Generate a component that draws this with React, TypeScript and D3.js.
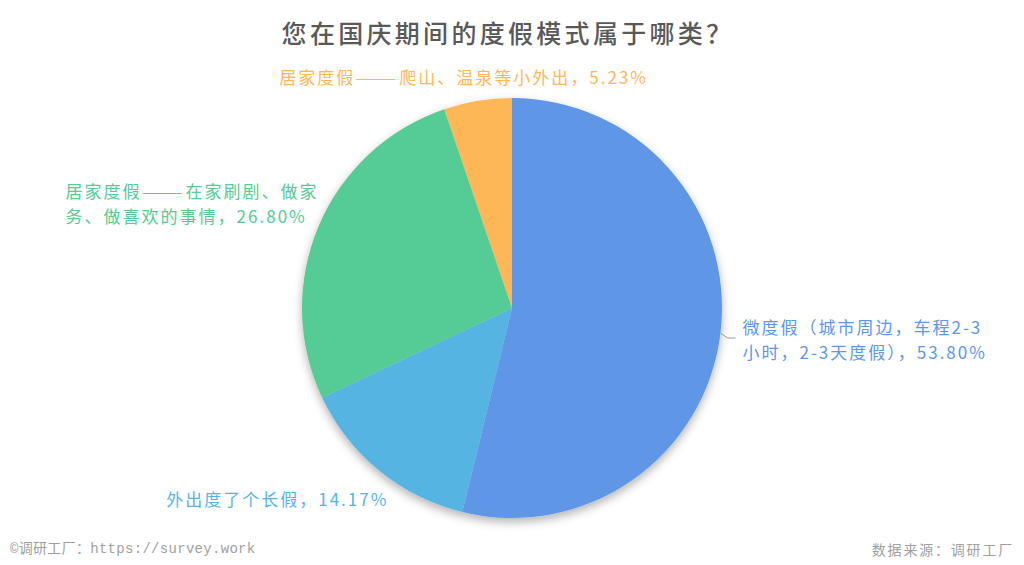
import * as d3 from "d3";
import { useEffect, useRef } from "react";

// data
const categories = [
  "微度假（城市周边，车程2-3小时，2-3天度假）",
  "外出度了个长假",
  "居家度假——在家刷剧、做家务、做喜欢的事情",
  "居家度假——爬山、温泉等小外出",
];
const values = [53.8, 14.17, 26.8, 5.23];
const colors = ["#5e97e6", "#56b4e3", "#55cb95", "#feb756"];
// label lines as printed (wrapped)
const labelLines = [
  ["微度假（城市周边，车程2-3", "小时，2-3天度假），53.80%"],
  ["外出度了个长假，14.17%"],
  ["居家度假——在家刷剧、做家", "务、做喜欢的事情，26.80%"],
  ["居家度假——爬山、温泉等小外出，5.23%"],
];

const title = "您在国庆期间的度假模式属于哪类？";
const footLeft = "©调研工厂：https://survey.work";
const footRight = "数据来源：调研工厂";

export default function App() {
  const svgRef = useRef<SVGSVGElement>(null);
  const width = 1024;
  const height = 565;

  useEffect(() => {
    const svg = d3.select(svgRef.current).attr("width", width).attr("height", height);
    svg.selectAll("*").remove();

    const font = "'Noto Sans CJK SC', 'Noto Sans', sans-serif";
    const monoFont = "'Liberation Mono', 'Noto Sans CJK SC', monospace";

    const defs = svg.append("defs");
    const f = defs.append("filter").attr("id", "shadow").attr("x", "-20%").attr("y", "-20%").attr("width", "140%").attr("height", "140%");
    f.append("feDropShadow")
      .attr("dx", 0).attr("dy", 4).attr("stdDeviation", 5)
      .attr("flood-color", "#000").attr("flood-opacity", 0.3);

    // title
    svg.append("text")
      .attr("x", width / 2 - 4).attr("y", 32)
      .attr("text-anchor", "middle").attr("dominant-baseline", "central")
      .attr("font-family", font).attr("font-size", 25).attr("font-weight", 500)
      .attr("letter-spacing", 3.3)
      .attr("fill", "#595959")
      .text(title);

    const cx = 512, cy = 308, r = 210;
    const data = categories.map((c, i) => ({ name: c, value: values[i], i }));
    const pie = d3.pie<typeof data[0]>().value(d => d.value).sort(null);
    const arcs = pie(data);
    const arc = d3.arc<d3.PieArcDatum<typeof data[0]>>().innerRadius(0).outerRadius(r);

    const g = svg.append("g").attr("transform", `translate(${cx},${cy})`);
    g.append("g").attr("filter", "url(#shadow)")
      .selectAll("path")
      .data(arcs)
      .enter()
      .append("path")
      .attr("d", arc)
      .attr("fill", d => colors[d.data.i]);

    // label placement relative to the point on the rim at mid-angle
    const rim = (d: d3.PieArcDatum<typeof data[0]>) => {
      const a = (d.startAngle + d.endAngle) / 2;
      return [Math.sin(a) * r, -Math.cos(a) * r];
    };
    const layout = [
      { anchor: "start", dx: 22, dy: 5.5, gap: 25, line: true },
      { anchor: "end", dx: 9, dy: 28, gap: 25, line: false },
      { anchor: "start", dx: -253, dy: -23.5, gap: 25, line: false },
      { anchor: "middle", dx: -14, dy: -24, gap: 25, line: false },
    ];

    arcs.forEach((d, k) => {
      const [px, py] = rim(d);
      const L = layout[k];
      if (L.line) {
        g.append("polyline")
          .attr("points", `${px},${py} ${px + 7},${py + 5} ${px + 15},${py + 5}`)
          .attr("fill", "none").attr("stroke", "#999").attr("stroke-width", 1);
      }
      const lines = labelLines[d.data.i];
      const t = g.append("text")
        .attr("text-anchor", L.anchor)
        .attr("font-family", font).attr("font-size", 17)
        .attr("letter-spacing", 2)
        .attr("fill", colors[d.data.i]);
      const y0 = py + L.dy - ((lines.length - 1) * L.gap) / 2;
      lines.forEach((s, j) => {
        const line = t.append("tspan")
          .attr("x", px + L.dx)
          .attr("y", y0 + j * L.gap)
          .attr("dominant-baseline", "central");
        const parts = s.split("——");
        parts.forEach((p, pi) => {
          if (pi > 0) {
            // wide double dash, as in the source font
            line.append("tspan")
              .attr("textLength", 44)
              .attr("lengthAdjust", "spacingAndGlyphs")
              .text("——");
          }
          if (p) line.append("tspan").text(p);
        });
      });
    });

    // footer
    svg.append("text")
      .attr("x", 10).attr("y", 549)
      .attr("dominant-baseline", "central")
      .attr("font-family", monoFont).attr("font-size", 14)
      .attr("letter-spacing", 0.3)
      .attr("fill", "#a0a0a0")
      .text(footLeft);
    svg.append("text")
      .attr("x", width - 10).attr("y", 549)
      .attr("text-anchor", "end").attr("dominant-baseline", "central")
      .attr("font-family", font).attr("font-size", 14)
      .attr("letter-spacing", 1.8)
      .attr("fill", "#a0a0a0")
      .text(footRight);
  }, []);

  return (
    <div style={{ position: "absolute", left: 0, top: 0, width, height, background: "#fff" }}>
      <svg ref={svgRef}></svg>
    </div>
  );
}
